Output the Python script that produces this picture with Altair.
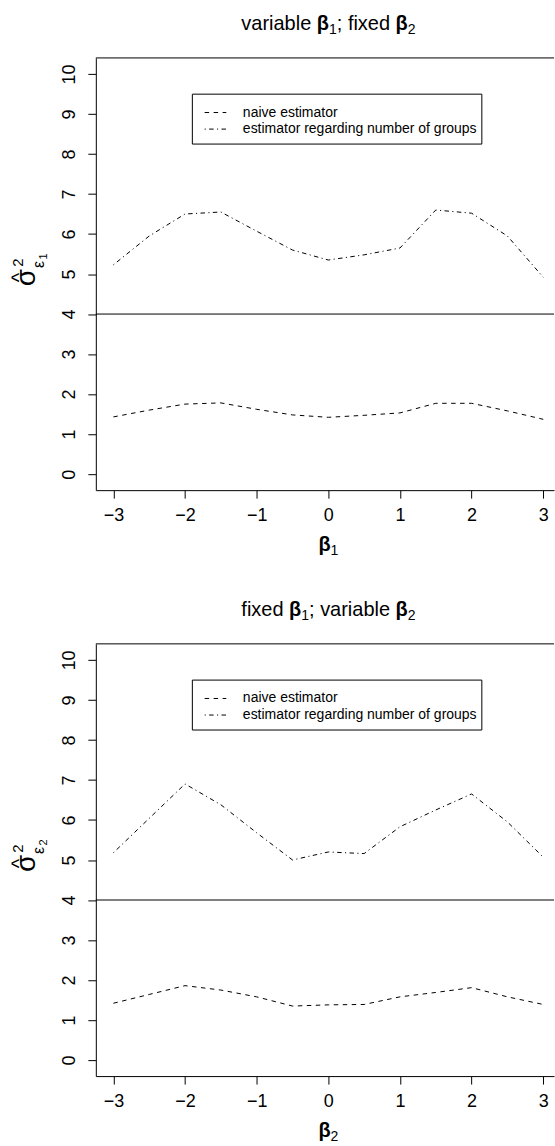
import altair as alt
import pandas as pd

# ---------------- data ----------------
beta = [-3, -2.5, -2, -1.5, -1, -0.5, 0, 0.5, 1, 1.5, 2, 2.5, 3]
naive_1 = [1.43, 1.60, 1.75, 1.78, 1.62, 1.48, 1.42, 1.47, 1.53, 1.77, 1.77, 1.58, 1.37]
groups_1 = [5.23, 5.95, 6.50, 6.55, 6.07, 5.60, 5.35, 5.48, 5.65, 6.60, 6.52, 5.95, 4.92]
naive_2 = [1.42, 1.64, 1.86, 1.75, 1.58, 1.35, 1.38, 1.39, 1.58, 1.69, 1.81, 1.58, 1.39]
groups_2 = [5.18, 6.04, 6.90, 6.38, 5.68, 5.00, 5.20, 5.16, 5.83, 6.25, 6.65, 5.95, 5.07]
series_names = ["naive estimator", "estimator regarding number of groups"]
x_ticks = [-3, -2, -1, 0, 1, 2, 3]
y_ticks = list(range(0, 11))
ref_level = 4

FONT = "Liberation Sans"
DASHES = [[4.5, 4.5], [1.1, 3.4, 4.5, 3.4]]
W, H = 459, 433
L, T = 96, 57

one = alt.Data(values=[{}])


def txt(s, x, y, size, weight="normal", align="left", baseline="alphabetic", angle=0):
    return alt.Chart(one).mark_text(
        align=align, baseline=baseline, fontSize=size, fontWeight=weight,
        angle=angle, font=FONT, color="black"
    ).encode(x=alt.value(x), y=alt.value(y), text=alt.value(s))


def panel(naive, groups, title_parts, sub, bottom_extent):
    df = pd.DataFrame({
        "beta": beta * 2,
        "value": naive + groups,
        "series": [series_names[0]] * len(beta) + [series_names[1]] * len(beta),
    })
    lines = alt.Chart(df).mark_line(color="black", strokeWidth=1).encode(
        x=alt.X("beta:Q",
                scale=alt.Scale(domain=[-3.245, 3.15], nice=False, zero=False),
                axis=alt.Axis(values=x_ticks, title=None, grid=False, tickSize=8,
                              tickColor="black", domainColor="black", labelColor="black",
                              labelFontSize=18, labelFont=FONT, labelPadding=8,
                              labelFlush=False)),
        y=alt.Y("value:Q",
                scale=alt.Scale(domain=[-0.4, 10.4], nice=False, zero=False),
                axis=alt.Axis(values=y_ticks, title=None, grid=False, tickSize=8,
                              tickColor="black", domainColor="black", labelColor="black",
                              labelFontSize=18, labelFont=FONT, labelAngle=270,
                              labelAlign="center", labelBaseline="bottom",
                              labelPadding=9, labelFlush=False)),
        strokeDash=alt.StrokeDash("series:N",
                                  scale=alt.Scale(domain=series_names, range=DASHES),
                                  legend=None),
        detail="series:N",
    )
    hline = alt.Chart(one).mark_rule(color="black", strokeWidth=1).encode(
        y=alt.datum(ref_level))
    top_line = alt.Chart(one).mark_rule(color="black", strokeWidth=1).encode(
        x=alt.value(0), x2=alt.value(W), y=alt.value(0))
    anchor = alt.Chart(one).mark_rule(opacity=0).encode(
        x=alt.value(-L), x2=alt.value(W), y=alt.value(-T), y2=alt.value(bottom_extent))

    # legend box
    box = alt.Chart(one).mark_rect(fill="white", stroke="black", strokeWidth=1).encode(
        x=alt.value(96.7), x2=alt.value(386.7), y=alt.value(36.3), y2=alt.value(86.3))
    leg = []
    for i, (name, dash) in enumerate(zip(series_names, DASHES)):
        yy = 54.7 + i * 16.6
        leg.append(alt.Chart(one).mark_rule(color="black", strokeWidth=1, strokeDash=dash).encode(
            x=alt.value(109), x2=alt.value(130.7), y=alt.value(yy)))
        leg.append(txt(name, 147.3, yy, 14, baseline="middle"))

    # title pieces
    tl = []
    for s, x, kind in title_parts:
        if kind == "b":
            tl.append(txt(s, x, -28, 20, weight="bold"))
        elif kind == "s":
            tl.append(txt(s, x, -24, 14))
        else:
            tl.append(txt(s, x, -28, 20))

    # x axis title
    xt = [txt("β", 223, 494, 20, weight="bold"), txt(sub, 235, 498, 14)]
    # y axis title  (sigma-hat squared, subscript epsilon_k), rotated
    yt = [
        txt("σ", -69, 220, 28, align="center", baseline="middle", angle=270),
        txt("^", -76, 220, 20, align="center", baseline="middle", angle=270),
        txt("2", -77.5, 205, 15, align="center", baseline="middle", angle=270),
        txt("ε", -56.6, 207, 16, align="center", baseline="middle", angle=270),
        txt(sub, -52, 199, 11, align="center", baseline="middle", angle=270),
    ]
    return alt.layer(anchor, top_line, hline, lines, box, *leg, *tl, *xt, *yt).properties(
        width=W, height=H)


top = panel(naive_1, groups_1,
            [("variable", 145.8, "n"), ("β", 221.4, "b"), ("1", 233.6, "s"),
             ("; fixed", 241.4, "n"), ("β", 300.3, "b"), ("2", 312.5, "s")],
            "1", 530)
bottom = panel(naive_2, groups_2,
               [("fixed", 145.8, "n"), ("β", 193.6, "b"), ("1", 205.8, "s"),
                ("; variable", 213.6, "n"), ("β", 300.3, "b"), ("2", 312.5, "s")],
               "2", 502)

chart = alt.vconcat(top, bottom, spacing=0).properties(
    padding=0, background="white"
).configure_view(stroke=None)

chart.save("out.html", embed_options={"renderer": "svg", "actions": False})
